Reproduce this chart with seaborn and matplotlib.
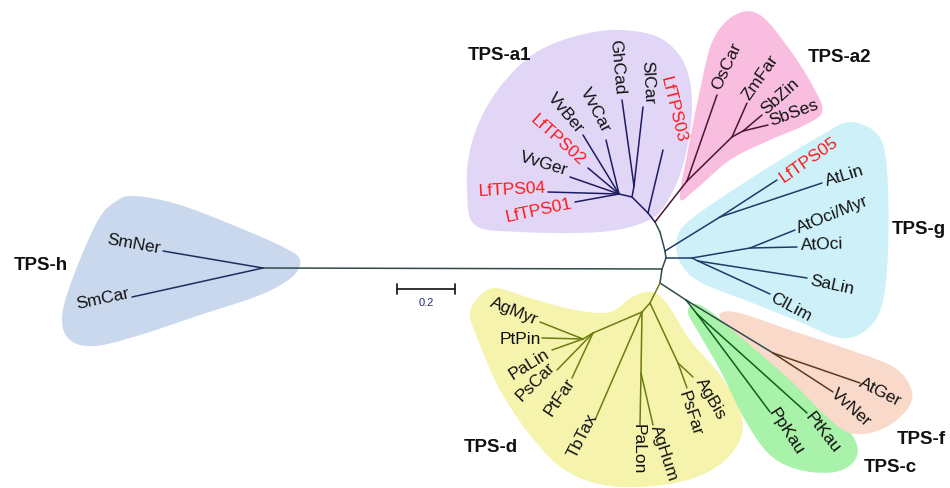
import numpy as np
import pandas as pd
import matplotlib
matplotlib.use("Agg")
import matplotlib.pyplot as plt
import seaborn as sns

# ---------------- data (tree layout) ----------------
node_name = ["root", "Hn", "SmNer", "SmCar",
             "Bg2", "Bg1", "Bm", "Ba2",
             "A0", "LfTPS03", "A1", "A2", "GhCad", "SlCar", "A3",
             "VvCar", "VvBer", "LfTPS02", "VvGer", "LfTPS04", "LfTPS01",
             "P0", "OsCar", "P1", "ZmFar", "P2", "SbZin", "SbSes",
             "G1", "LfTPS05", "AtLin", "G2", "G3", "AtOci/Myr", "AtOci", "G4", "SaLin", "ClLim",
             "Bcf", "CF0", "C0", "PpKau", "PtKau", "F0", "AtGer", "VvNer",
             "D0", "D1", "D2", "D4", "AgMyr", "PtPin", "PaLin", "PsCar", "PtFar",
             "TbTax", "D5", "PaLon", "AgHum", "D6", "AgBis", "PsFar"]
node_x = [662, 263, 163, 132,
          666, 665, 660, 655,
          648, 663, 632, 634, 622, 643, 619,
          606, 583, 588, 570, 548, 575,
          687, 717, 732, 747, 743, 762, 768,
          720, 777, 822, 692, 750, 795, 797, 698, 807, 770,
          660, 686, 697, 770, 807, 773, 860, 833,
          650, 642, 593, 583, 540, 542, 552, 557, 572,
          595, 641, 640, 653, 678, 693, 687]
node_y = [269, 268, 251, 297,
          258, 251, 232, 222,
          213, 150, 197, 186, 100, 107, 194,
          140, 135, 168, 177, 192, 202,
          181, 95, 137, 103, 131, 115, 125,
          217, 180, 183, 258, 248, 230, 247, 261, 278, 294,
          283, 300, 314, 412, 413, 353, 383, 392,
          303, 312, 333, 339, 322, 338, 350, 370, 378,
          420, 373, 425, 425, 363, 377, 388]
node_parent = [None, "root", "Hn", "Hn",
               "root", "Bg2", "Bg1", "Bm",
               "Ba2", "A0", "A0", "A1", "A2", "A2", "A1",
               "A3", "A3", "A3", "A3", "A3", "A3",
               "Ba2", "P0", "P0", "P1", "P1", "P2", "P2",
               "Bg1", "G1", "G1", "Bg2", "G2", "G3", "G3", "G2", "G4", "G4",
               "root", "Bcf", "CF0", "C0", "C0", "CF0", "F0", "F0",
               "Bcf", "D0", "D1", "D2", "D4", "D4", "D4", "D2", "D2",
               "D1", "D1", "D5", "D5", "D0", "D6", "D6"]
node_clade = ["stem", "stem", "h", "h",
              "stem", "stem", "stem", "stem",
              "a1", "a1", "a1", "a1", "a1", "a1", "a1",
              "a1", "a1", "a1", "a1", "a1", "a1",
              "a2", "a2", "a2", "a2", "a2", "a2", "a2",
              "g", "g", "g", "g", "g", "g", "g", "g", "g", "g",
              "stem", "stem", "c", "c", "c", "stem", "f", "f",
              "d", "d", "d", "d", "d", "d", "d", "d", "d",
              "d", "d", "d", "d", "d", "d", "d"]

# tip labels
label_text = ["SmNer", "SmCar",
              "LfTPS01", "LfTPS04", "VvGer", "LfTPS02", "VvBer", "VvCar", "GhCad", "SlCar", "LfTPS03",
              "OsCar", "ZmFar", "SbZin", "SbSes",
              "LfTPS05", "AtLin", "AtOci/Myr", "AtOci", "SaLin", "ClLim",
              "AgMyr", "PtPin", "PaLin", "PsCar", "PtFar", "TbTax", "PaLon", "AgHum", "PsFar", "AgBis",
              "PpKau", "PtKau", "VvNer", "AtGer"]
label_x = [134, 103,
           539, 512, 544, 558, 566, 595, 617, 648, 673,
           727, 760, 780, 794,
           809, 845, 833, 822, 832, 791,
           514, 520, 529, 536, 560, 582, 638, 664, 690, 711,
           786, 823, 851, 880]
label_y = [244, 299,
           211, 190, 164, 140, 113, 110, 67, 82, 110,
           66, 78, 96, 113,
           160, 176, 215, 245, 285, 307,
           311, 339, 364, 382, 397, 436, 449, 453, 414, 399,
           432, 433, 408, 392]
label_rot = [-10, 12,
             12, 3, -17, -42, -50, -62, -85, -87, -76,
             65, 55, 42, 20,
             35, 17, 22, 2, -12, -28,
             -22, 0, 32, 45, 56, 63, -90, -72, -72, -60,
             -57, -52, -42, -27]
label_red = ["LfTPS01", "LfTPS02", "LfTPS03", "LfTPS04", "LfTPS05"]

# clade titles
group_text = ["TPS-h", "TPS-a1", "TPS-a2", "TPS-g", "TPS-d", "TPS-f", "TPS-c"]
group_x = [41, 500, 840, 919, 491, 921, 890]
group_y = [266, 56, 58, 229, 447, 440, 468]

# shaded clade regions (outline points)
blob_h = ([97, 115, 135, 180, 240, 285, 300, 292, 260, 200, 140, 95, 70, 62, 72],
          [222, 202, 196, 205, 228, 248, 260, 277, 295, 315, 335, 346, 340, 318, 280])
blob_a1 = ([475, 467, 470, 485, 510, 540, 580, 620, 660, 685, 692, 683, 665, 645, 600, 520],
           [225, 190, 150, 110, 75, 50, 35, 30, 38, 65, 110, 165, 205, 222, 232, 232])
blob_a2 = ([680, 688, 700, 713, 735, 760, 790, 815, 822, 805, 770, 730, 695],
           [198, 150, 90, 40, 15, 15, 50, 90, 112, 125, 140, 160, 190])
blob_g = ([677, 690, 730, 780, 822, 850, 878, 887, 888, 882, 866, 840, 800, 750, 700, 680],
          [238, 220, 192, 160, 135, 122, 135, 170, 250, 305, 330, 338, 322, 302, 282, 262])
blob_d = ([478, 495, 530, 575, 610, 632, 652, 668, 690, 720, 740, 740, 715, 670, 610, 565, 530, 500, 480, 470],
          [298, 288, 298, 310, 312, 297, 292, 305, 340, 375, 410, 440, 468, 484, 486, 470, 435, 390, 345, 315])
blob_c = ([688, 700, 740, 790, 830, 855, 855, 835, 800, 770, 745, 720, 700],
          [312, 305, 335, 375, 410, 440, 460, 472, 470, 455, 420, 370, 335])
blob_f = ([720, 735, 790, 850, 895, 912, 905, 880, 850, 825, 790, 750],
          [318, 312, 330, 350, 368, 392, 412, 430, 433, 415, 380, 345])

scale_len = [397, 455]
scale_y = 289
scale_label = "0.2"

# ---------------- styles ----------------
line_colors = {"stem": "#2f4b4b", "h": "#1d2f5e", "a1": "#1c1c60", "a2": "#4b1530",
               "g": "#1e3c66", "d": "#6b7d12", "c": "#0e5e1e", "f": "#5a3c1c"}
blob_colors = [("#c9d8ec", blob_h), ("#e2d6f7", blob_a1), ("#f9bedf", blob_a2),
               ("#cdf0f9", blob_g), ("#f6f4ac", blob_d), ("#a9f2a9", blob_c),
               ("#f9d9c9", blob_f)]


def smooth_closed(xs, ys, n=24):
    P = np.column_stack([xs, ys]).astype(float)
    N = len(P)
    t = np.linspace(0, 1, n, endpoint=False)[:, None]
    out = []
    for i in range(N):
        p0, p1, p2, p3 = P[i - 1], P[i], P[(i + 1) % N], P[(i + 2) % N]
        seg = 0.5 * (2 * p1 + (-p0 + p2) * t + (2 * p0 - 5 * p1 + 4 * p2 - p3) * t ** 2
                     + (-p0 + 3 * p1 - 3 * p2 + p3) * t ** 3)
        out.append(seg)
    return np.vstack(out)


sns.set_theme(style="white")
plt.rcParams["font.family"] = ["Liberation Sans", "DejaVu Sans"]

fig = plt.figure(figsize=(9.5, 4.88), dpi=100)
ax = fig.add_axes([0, 0, 1, 1])

for col, (bx, by) in blob_colors:
    pts = smooth_closed(bx, by)
    ax.fill(pts[:, 0], pts[:, 1], color=col, lw=0, zorder=0)

# edges
pos = {n: (x, y) for n, x, y in zip(node_name, node_x, node_y)}
rows = []
for i, (n, p, c) in enumerate(zip(node_name, node_parent, node_clade)):
    if p is None:
        continue
    rows.append(dict(edge=i, x=pos[p][0], y=pos[p][1], clade=c, order=0))
    rows.append(dict(edge=i, x=pos[n][0], y=pos[n][1], clade=c, order=1))
edges = pd.DataFrame(rows)
sns.lineplot(data=edges, x="x", y="y", units="edge", estimator=None, hue="clade",
             palette=line_colors, sort=False, legend=False, lw=1.1, ax=ax, zorder=2)

for t, x, y, r in zip(label_text, label_x, label_y, label_rot):
    ax.text(x, y, t, rotation=r, rotation_mode="anchor", ha="center", va="center",
            fontsize=12.5, color="#ff1a1a" if t in label_red else "#111111", zorder=3)

for t, x, y in zip(group_text, group_x, group_y):
    ax.text(x, y, t, ha="center", va="center", fontsize=13.5, fontweight="bold",
            color="#111111", zorder=3)

# scale bar
ax.plot(scale_len, [scale_y, scale_y], color="#222222", lw=1.3)
for sx in scale_len:
    ax.plot([sx, sx], [scale_y - 5, scale_y + 5], color="#222222", lw=1.3)
ax.text(np.mean(scale_len), scale_y + 14, scale_label, ha="center", va="center",
        fontsize=8, color="#1f2a66")

ax.set_xlim(0, 950)
ax.set_ylim(488, 0)
ax.set_axis_off()
fig.savefig("out.png", dpi=100)
